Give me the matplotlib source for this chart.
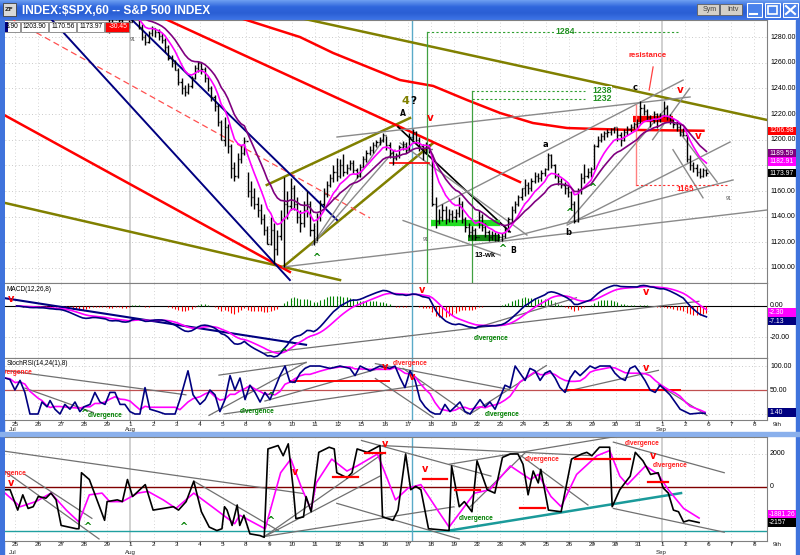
import numpy as np
import pandas as pd
import matplotlib
matplotlib.use("Agg")
import matplotlib.pyplot as plt
import matplotlib.transforms as mtrans
from matplotlib.collections import LineCollection
from matplotlib.patches import Rectangle
from matplotlib.colors import LinearSegmentedColormap

W, H = 800, 555
NARROW = ["Liberation Sans", "DejaVu Sans"]

# ---------------- data ----------------
# trading days, index 0 = Jul 25 2011
day_labels = ["25", "26", "27", "28", "29", "1", "2", "3", "4", "5", "8", "9", "10",
              "11", "12", "15", "16", "17", "18", "19", "22", "23", "24", "25", "26",
              "29", "30", "31", "1", "2", "6", "7", "8", "9th"]
month_labels = {0: "Jul", 5: "Aug", 28: "Sep"}

# hourly bars, 7 per day, Jul 25 .. Sep 2
bar_close = [
    1340, 1338, 1335, 1337, 1334, 1336, 1337,
    1335, 1336, 1333, 1331, 1332, 1330, 1331,
    1327, 1322, 1318, 1314, 1310, 1307, 1305,
    1308, 1312, 1314, 1309, 1305, 1302, 1300,
    1290, 1295, 1298, 1293, 1286, 1288, 1292,
    1303, 1296, 1288, 1280, 1276, 1283, 1287,
    1284, 1281, 1278, 1272, 1264, 1260, 1254,
    1245, 1240, 1237, 1242, 1248, 1256, 1260,
    1255, 1248, 1240, 1233, 1226, 1214, 1200,
    1210, 1195, 1178, 1172, 1185, 1190, 1199,
    1160, 1155, 1150, 1145, 1138, 1130, 1119,
    1130, 1115, 1125, 1138, 1150, 1148, 1162,
    1150, 1140, 1135, 1145, 1150, 1130, 1120,
    1140, 1150, 1158, 1165, 1170, 1175, 1172,
    1180, 1175, 1178, 1182, 1176, 1172, 1179,
    1185, 1190, 1192, 1196, 1198, 1200, 1204,
    1196, 1190, 1186, 1188, 1194, 1197, 1192,
    1202, 1206, 1200, 1195, 1190, 1196, 1193,
    1150, 1137, 1140, 1145, 1138, 1142, 1140,
    1143, 1150, 1138, 1132, 1128, 1130, 1124,
    1140, 1132, 1128, 1124, 1126, 1122, 1124,
    1125, 1130, 1138, 1145, 1150, 1155, 1162,
    1165, 1162, 1168, 1172, 1170, 1174, 1177,
    1188, 1180, 1172, 1168, 1165, 1162, 1159,
    1150, 1137, 1160, 1170, 1172, 1175, 1177,
    1195, 1200, 1203, 1205, 1206, 1208, 1210,
    1204, 1200, 1206, 1208, 1210, 1212, 1213,
    1225, 1222, 1218, 1215, 1220, 1216, 1219,
    1225, 1218, 1215, 1212, 1210, 1206, 1204,
    1185, 1180, 1178, 1175, 1172, 1176, 1174,
]
bar_high = [
    1344, 1341, 1339, 1338, 1337, 1337, 1338,
    1338, 1338, 1337, 1334, 1334, 1333, 1333,
    1331, 1328, 1323, 1319, 1315, 1311, 1308,
    1310, 1314, 1316, 1315, 1310, 1306, 1304,
    1300, 1297, 1300, 1299, 1294, 1290, 1293,
    1307, 1304, 1297, 1290, 1282, 1285, 1289,
    1287, 1286, 1283, 1279, 1274, 1266, 1262,
    1256, 1248, 1243, 1244, 1250, 1258, 1261,
    1260, 1257, 1250, 1242, 1235, 1228, 1215,
    1218, 1212, 1197, 1183, 1190, 1196, 1202,
    1175, 1168, 1162, 1155, 1150, 1142, 1133,
    1140, 1135, 1130, 1145, 1171, 1160, 1170,
    1165, 1155, 1145, 1152, 1160, 1152, 1135,
    1143, 1153, 1162, 1168, 1173, 1180, 1186,
    1185, 1189, 1181, 1184, 1184, 1178, 1181,
    1187, 1192, 1195, 1198, 1200, 1202, 1205,
    1203, 1198, 1192, 1190, 1196, 1199, 1198,
    1205, 1208, 1207, 1202, 1197, 1198, 1197,
    1189, 1155, 1146, 1150, 1148, 1146, 1145,
    1146, 1155, 1152, 1140, 1135, 1133, 1131,
    1145, 1142, 1135, 1130, 1129, 1128, 1127,
    1127, 1133, 1140, 1148, 1152, 1157, 1162,
    1169, 1167, 1170, 1175, 1174, 1176, 1178,
    1190, 1189, 1181, 1174, 1170, 1167, 1164,
    1160, 1152, 1162, 1174, 1181, 1178, 1179,
    1197, 1203, 1205, 1207, 1208, 1209, 1210,
    1209, 1206, 1208, 1211, 1212, 1214, 1216,
    1230, 1228, 1224, 1219, 1222, 1221, 1221,
    1230, 1227, 1220, 1217, 1215, 1212, 1209,
    1204, 1188, 1183, 1181, 1178, 1178, 1177,
]
bar_low = [
    1338, 1336, 1333, 1334, 1331, 1333, 1335,
    1334, 1333, 1331, 1329, 1330, 1329, 1329,
    1326, 1320, 1316, 1312, 1308, 1304, 1303,
    1302, 1306, 1310, 1307, 1303, 1300, 1299,
    1283, 1288, 1293, 1290, 1284, 1284, 1287,
    1292, 1294, 1286, 1278, 1274, 1275, 1281,
    1280, 1278, 1275, 1268, 1262, 1257, 1254,
    1243, 1236, 1234, 1236, 1240, 1247, 1253,
    1251, 1245, 1238, 1230, 1222, 1211, 1200,
    1195, 1190, 1170, 1168, 1170, 1182, 1188,
    1155, 1148, 1146, 1140, 1134, 1126, 1119,
    1118, 1103, 1110, 1122, 1101, 1138, 1145,
    1145, 1135, 1128, 1132, 1140, 1125, 1118,
    1121, 1137, 1148, 1155, 1163, 1167, 1168,
    1170, 1172, 1173, 1176, 1174, 1170, 1171,
    1179, 1183, 1188, 1190, 1194, 1196, 1198,
    1192, 1186, 1180, 1184, 1186, 1192, 1190,
    1192, 1200, 1197, 1191, 1184, 1189, 1190,
    1148, 1131, 1134, 1137, 1134, 1136, 1136,
    1136, 1140, 1135, 1128, 1124, 1122, 1122,
    1131, 1129, 1124, 1121, 1122, 1121, 1121,
    1121, 1123, 1128, 1136, 1143, 1148, 1153,
    1156, 1158, 1160, 1166, 1167, 1168, 1172,
    1176, 1178, 1170, 1165, 1162, 1158, 1155,
    1145, 1135, 1136, 1158, 1166, 1170, 1171,
    1177, 1194, 1198, 1200, 1202, 1204, 1205,
    1199, 1195, 1199, 1204, 1206, 1208, 1209,
    1213, 1219, 1215, 1210, 1213, 1209, 1214,
    1218, 1215, 1212, 1209, 1207, 1203, 1203,
    1183, 1176, 1175, 1172, 1170, 1171, 1172,
]

# long red moving average
red_ma_day = [9.74, 12.34, 13.77, 16.67, 18.1, 19.57, 21.0, 22.42, 23.9, 25.32, 26.75, 29.8]
red_ma_val = [1294.9, 1280.0, 1267.6, 1246.5, 1241.9, 1230.9, 1220.8, 1213.0, 1209.1, 1208.3, 1207.6, 1206.98]

# StochRSI %K
stoch_day = [-0.43, -0.22, 0, 0.22, 0.43, 0.65, 1.0, 1.17, 1.39, 1.52, 1.73, 1.95, 2.16, 2.38,
             2.6, 2.81, 2.99, 3.25, 3.46, 3.68, 3.9, 4.11, 4.33, 4.55, 4.76, 4.98, 5.19, 5.41,
             5.63, 5.84, 6.19, 6.49, 6.93, 7.14, 7.49, 7.71, 8.01, 8.23, 8.44, 8.66, 8.87, 9.09,
             9.31, 9.52, 9.74, 9.96, 10.17, 10.39, 10.61, 10.82, 11.04, 11.26, 11.47, 11.69,
             11.9, 12.12, 12.34, 12.55, 12.77, 13.2, 13.64, 14.07, 14.5, 14.72, 14.94, 15.37,
             15.8, 16.23, 16.45, 16.67, 16.88, 17.1, 17.32, 17.53, 17.75, 17.97, 18.18, 18.4,
             18.61, 18.83, 19.05, 19.26, 19.48, 19.7, 19.91, 20.13, 20.35, 20.56, 20.78, 21.0,
             21.21, 21.43, 21.65, 21.86, 22.08, 22.29, 22.51, 22.73, 22.94, 23.16, 23.38, 23.59,
             23.81, 24.03, 24.24, 24.46, 24.68, 24.89, 25.11, 25.32, 25.76, 25.97, 26.19, 26.41,
             26.62, 26.84, 27.06, 27.27, 27.49, 27.71, 27.92, 28.14, 28.35, 28.57, 28.79, 29.0,
             29.22, 29.65, 29.87]
stoch_k = [75, 72, 50, 70, 45, 0, 0, 25, 15, 28, 10, 0, 20, 10,
           25, 5, 15, 20, 45, 25, 20, 45, 45, 20, 20, 5, 0, 0,
           55, 10, 5, 0, 0, 30, 90, 40, 20, 30, 50, 40, 5, 30,
           80, 50, 75, 30, 60, 45, 25, 45, 30, 55, 80, 100,
           67, 66, 85, 95, 100, 100, 95, 100, 95, 80, 100, 90,
           100, 95, 100, 75, 55, 90, 70, 30, 15, 5, 0, 0,
           20, 5, 15, 25, 5, 0, 15, 30, 15, 25, 10, 35,
           60, 55, 100, 85, 70, 95, 90, 70, 85, 90, 75, 55,
           45, 75, 90, 80, 90, 100, 95, 100, 100, 85, 75, 70,
           95, 100, 85, 70, 50, 45, 60, 50, 40, 25, 10, 5,
           0, 2, 1.4]

# bottom oscillator (black) and its signal (magenta)
osc_day = [-0.54, -0.21, 0.12, 0.34, 0.57, 0.79, 1.01, 1.34, 1.56, 1.78, 2.0, 2.66, 2.77, 2.88,
           3.22, 3.55, 3.88, 3.99, 4.43, 4.65, 4.87, 5.09, 5.64, 5.98, 6.42, 6.86, 7.08, 7.41,
           7.74, 8.07, 8.41, 8.74, 8.96, 9.07, 9.18, 9.40, 9.62, 9.73, 9.91, 10.17, 10.61, 10.79,
           10.95, 11.39, 11.61, 11.83, 12.05, 12.16, 12.49, 12.6, 12.82, 13.15, 13.6, 13.82,
           13.93, 14.37, 14.59, 14.81, 15.25, 15.8, 15.91, 16.36, 16.58, 16.91, 17.13, 17.35,
           17.57, 17.9, 18.79, 18.9, 19.23, 19.45, 19.78, 20.0, 20.44, 20.77, 21.1, 21.44,
           21.77, 21.99, 22.21, 22.43, 22.65, 22.76, 23.09, 23.64, 24.09, 24.53, 24.75, 24.97,
           25.3, 25.74, 25.85, 26.18, 26.4, 26.63, 26.85, 27.18, 27.51, 27.84, 28.06, 28.28,
           28.5, 28.72, 28.94, 29.17, 29.61]
osc_val = [-165, -165, -1400, -475, -1300, -1195, -577, -680, -370, -780, -2330, -2530, -2530, 865,
           453, -780, -2020, -885, -780, -885, 453, -577, 144, -1400, -1300, -1195, -1400, -885,
           350, -1500, -2430, -2640, -2530, -1195, -1400, -2330, -1090, -2330, -1710, -2840, -2945, -3050,
           2307, 2513, 1895, 2616, -165, -1916, -1813, -577, -1500, 2100, 2410, 2307,
           865, 556, 865, 2307, 2100, 2513, -1813, -2020, -1400, 2000, -165, 40,
           -165, -2530, -2640, 1277, -1195, -885, -1500, 1586, -165, -370, 1792, 2000,
           2000, 1380, -475, 968, 247, 1071, -1400, -1500, 1690, 2000, 2100, 1895,
           2410, 2410, -1195, -165, 247, 660, 2100, 1586, 762, 865, -62, -370,
           -1400, -1500, -2120, -2020, -2157]
sig_day = [-0.43, 0.23, 0.9, 1.56, 2.22, 2.77, 3.22, 3.77, 4.1, 4.65, 5.31, 5.76, 6.42, 6.97,
           7.74, 8.63, 9.51, 9.73, 10.83, 11.5, 11.94, 12.38, 12.82, 13.04, 13.71, 14.37, 14.81,
           15.69, 16.13, 16.47, 17.02, 17.57, 18.34, 18.79, 19.45, 19.89, 20.55, 21.44, 22.32,
           22.65, 23.2, 23.64, 24.31, 25.19, 25.74, 26.18, 26.51, 27.29, 27.84, 28.28, 28.94, 29.61]
sig_val = [-371, -1195, -886, -371, -1400, -2120, -474, -371, -886, -886, -371, -268, -783, -1298,
           -371, -1298, -2225, -1710, -2534, 865, 1690, 40, -1400, 247, 1690, 968, 1277,
           2000, 453, -783, -62, 144, -1500, -2430, -1195, -371, -165, 1277, 453,
           762, -577, -1195, 762, 1895, 2204, 660, 144, 1277, 762, -165, -1298, -1881.26]

# right-hand value tags: text, value, box colour
price_tags = [("1206.98", 1206.98, "#ff0000"), ("1189.59", 1189.59, "#800080"),
              ("1182.91", 1182.91, "#ff00ff"), ("1173.97", 1173.97, "black")]
macd_tags = [("-2.30", -2.30, "#ff00ff"), ("-7.13", -7.13, "#000080")]
stoch_tags = [("1.40", 1.40, "#000080")]
osc_tags = [("-1881.26", -1881.26, "#ff00ff"), ("-2157", -2157, "black")]
header_vals = ["3.90", "1203.90", "1170.56", "1173.97", "-30.45"]

# hand-drawn trend lines, (day, value) pairs
price_olive = [((-0.43, 1150.7), (14.07, 1090.6)), ((12.34, 1294.9), (32.55, 1215.4)),
               ((11.6, 1100.8), (18.1, 1197.4)), ((10.9, 1164.7), (17.1, 1216.9))]
price_red = [((-0.43, 1218.9), (11.9, 1096.9)), ((6.41, 1294.9), (21.86, 1167.0))]
price_red_dash = [((-0.22, 1294.9), (15.37, 1139.0))]
price_navy = [((1.52, 1294.9), (11.9, 1090.6)), ((4.98, 1294.9), (13.94, 1137.4))]
price_black = [((16.58, 1209.9), (21.43, 1128.1))]
price_gray = [((11.6, 1100.8), (32.55, 1145.2)), ((21.0, 1121.8), (31.08, 1168.6)),
              ((23.9, 1133.5), (30.95, 1198.2)), ((23.9, 1135.0), (28.2, 1225.0)),
              ((18.27, 1147.5), (28.92, 1246.5)), ((13.94, 1202.1), (29.22, 1233.3)),
              ((28.79, 1205.2), (30.39, 1167.0)), ((28.48, 1192.2), (29.78, 1154.7)),
              ((16.67, 1197.4), (22.16, 1125.7)), ((12.86, 1117.9), (15.93, 1199.8)),
              ((12.86, 1117.9), (16.45, 1192.0)), ((16.8, 1137.0), (21.0, 1110.0)),
              ((27.6, 1200.0), (29.2, 1240.0))]
green_levels = [(1284, 17.84, 28.7, 23.8), (1238, 19.78, 24.68, 25.4), (1232, 19.78, 24.68, 25.4)]
green_bands = [(1135.0, 18.0, 21.0, "#22dd22"), (1123.4, 19.6, 21.0, "#118811")]
red_band = (1216.0, 26.75, 28.5)
cyan_day = 17.19

macd_navy_tl = [((-0.43, 5.0), (12.6, -25.0))]
macd_gray = [((10.82, -30.3), (29.6, 3.0)), ((19.9, -14.3), (24.3, 5.3))]

stoch_gray = [((-0.43, 91), (7.4, 40)), ((0.43, 54), (3.4, 3)), ((8.4, -3), (12.6, 108)),
              ((8.83, 81), (12.6, 107)), ((9.05, 0), (17.7, 61)), ((10.82, 27), (16.0, 98)),
              ((15.6, 105), (21.4, 51)), ((15.6, 74), (18.1, -7)), ((16.8, 95), (19.6, 0)),
              ((19.7, 0), (23.0, 101)), ((23.85, 47), (27.85, 91)), ((27.85, 61), (29.95, -3))]
stoch_red = [((11.9, 69), (16.2, 69)), ((23.8, 50), (28.8, 50))]

osc_gray = [((-0.6, 2200), (12.5, -400)), ((-0.65, 1170), (3.64, -3150)), ((0.43, 760), (3.33, -1900)),
            ((7.75, 350), (11.4, -2640)), ((10.8, -3000), (15.9, 2000)), ((10.8, -3000), (15.8, 660)),
            ((10.8, -3000), (19.0, -1200)), ((13.93, -990), (19.23, -3150)), ((15.0, 2820), (20.6, 660)),
            ((18.8, 1380), (26.3, 3130)), ((15.9, 2510), (24.98, 1900)), ((21.9, 1900), (24.8, -1090)),
            ((19.7, -1200), (22.1, 2100)), ((25.9, 2720), (30.7, 865)), ((25.9, -1300), (30.7, -2740))]
osc_cyan = [((18.8, -2640), (28.83, -370))]
osc_cyan_level = -2640
osc_red = [((13.77, 600), (14.85, 600)), ((15.15, 2050), (16.02, 2050)), ((17.66, 500), (18.7, 500)),
           ((19.05, -200), (20.13, -200)), ((21.86, -1300), (22.94, -1300)), ((24.24, 1700), (26.62, 1700)),
           ((27.4, 300), (28.27, 300))]

# ---------------- figure ----------------
fig = plt.figure(figsize=(8, 5.55), dpi=100)
fig.patch.set_facecolor("white")


def px_axes(x0, y0, x1, y1, z=1):
    ax = fig.add_axes([x0 / W, 1 - y1 / H, (x1 - x0) / W, (y1 - y0) / H])
    ax.set_zorder(z)
    return ax


bg = px_axes(0, 0, W, H, z=0)
grad = np.linspace(0, 1, 20)[:, None]
tb = LinearSegmentedColormap.from_list("tb", ["#6a9cf0", "#2f66dc", "#2a5fd4", "#3d74e6"])
bg.imshow(grad, extent=(0, W, 20, 0), cmap=tb, aspect="auto")
bg.add_patch(Rectangle((0, 20), 4, 535, color="#3f73dc"))
bg.add_patch(Rectangle((796, 20), 4, 535, color="#3f73dc"))
bg.add_patch(Rectangle((0, 432), W, 3.5, color="#8ab0ec"))
bg.set_xlim(0, W)
bg.set_ylim(H, 0)
bg.axis("off")

ax_p = px_axes(5, 20, 767, 283, z=2)
ax_m = px_axes(5, 283, 767, 358, z=2)
ax_s = px_axes(5, 358, 767, 420, z=2)
ax_c = px_axes(5, 437, 767, 541, z=2)

XL = (-0.43, 32.55)
ax_p.set_ylim(1088.3, 1293.3)
ax_m.set_ylim(-33.5, 14.8)
ax_s.set_ylim(-12.5, 116.7)
ax_c.set_ylim(-3273, 3030)

for ax in (ax_p, ax_m, ax_s, ax_c):
    ax.set_xlim(*XL)
    ax.set_yticks([])
    ax.set_xticks([])
    for sp in ax.spines.values():
        sp.set_color("#808080")
        sp.set_linewidth(0.8)
    ax.spines["left"].set_visible(False)
    for d in range(0, 33):
        if d in (5, 28):
            ax.axvline(d, color="#d0d0d0", lw=1.4, zorder=0)
        else:
            ax.axvline(d, color="#c8c8c8", lw=0.6, ls=(0, (1, 3)), zorder=0)

dotted = dict(color="#b8b8b8", lw=0.6, ls=(0, (1, 3)), zorder=0)
for v in range(1100, 1281, 20):
    ax_p.axhline(v, **dotted)
ax_m.axhline(-20, **dotted)
ax_s.axhline(100, **dotted)
ax_s.axhline(0, **dotted)
ax_c.axhline(2000, **dotted)

fg = px_axes(0, 0, W, H, z=10)
fg.set_xlim(0, W)
fg.set_ylim(H, 0)
fg.axis("off")
fg.patch.set_alpha(0)


def ypix(ax, v):
    return H - ax.transData.transform((0, v))[1]


def right_label(ax, y, s, covered=()):
    # plain axis value; skipped where a coloured tag sits on top of it
    if any(abs(ypix(ax, y) - c) < 6 for c in covered):
        return
    ax.text(1.004, y, s, transform=mtrans.blended_transform_factory(ax.transAxes, ax.transData),
            fontsize=5, family=NARROW, va="center", ha="left", clip_on=False, color="black")


def tags(ax, items, shift=0.0):
    # coloured value boxes in the label column, stacked so they do not overlap
    last = -99
    placed = []
    for s, v, fc in items:
        ypx = max(ypix(ax, v) + shift, last + 8.5)
        last = ypx
        placed.append(ypx)
        fg.add_patch(Rectangle((768, ypx - 4.2), 28, 8.4, fc=fc, ec="none", zorder=3))
        fg.text(769, ypx, s, fontsize=4.9, family=NARROW, color="white", va="center", ha="left", zorder=4)
    return placed


def draw_segs(ax, segs, **kw):
    for (d0, v0), (d1, v1) in segs:
        ax.plot([d0, d1], [v0, v1], **kw)


def mark(ax, d, v, s, color, size=7, weight="bold", ha="center", fam=None, **kw):
    ax.text(d, v, s, color=color, fontsize=size, fontweight=weight, ha=ha, va="center",
            family=fam or ["DejaVu Sans"], zorder=15, **kw)


# ---------------- price panel ----------------
close = np.array(bar_close, float)
high = np.array(bar_high, float)
low = np.array(bar_low, float)
t = (np.arange(len(close)) + 0.5) / 7.0
opn = np.r_[close[0], close[:-1]]
tk = 0.05
segs = [[(x, l), (x, h)] for x, l, h in zip(t, low, high)]
segs += [[(x - tk, o), (x, o)] for x, o in zip(t, opn)]
segs += [[(x, c), (x + tk, c)] for x, c in zip(t, close)]
ax_p.add_collection(LineCollection(segs, colors="black", linewidths=1.0, zorder=4))

cs = pd.Series(close)
ax_p.plot(t, cs.ewm(span=8, adjust=False).mean(), color="#ff00ff", lw=1.2, zorder=5)
ax_p.plot(t, cs.ewm(span=16, adjust=False).mean(), color="#800080", lw=1.2, zorder=5)
ax_p.plot(red_ma_day, red_ma_val, color="#ff0000", lw=1.8, zorder=3)

draw_segs(ax_p, price_olive, color="#808000", lw=1.8, zorder=3)
draw_segs(ax_p, price_red, color="#ff0000", lw=1.8, zorder=3)
draw_segs(ax_p, price_red_dash, color="#ff5050", lw=0.9, ls=(0, (5, 3)), zorder=3)
draw_segs(ax_p, price_navy, color="#000080", lw=1.4, zorder=3)
draw_segs(ax_p, price_black, color="black", lw=1.2, zorder=3)
draw_segs(ax_p, price_gray, color="#8a8a8a", lw=1.0, zorder=3)

for lvl, d0, d1, dl in green_levels:
    ax_p.plot([d0, d1], [lvl, lvl], color="#30a030", lw=0.8, ls=(0, (2, 2)), zorder=3)
    ax_p.text(dl, lvl, str(lvl), color="#209020", fontsize=6.3, fontweight="bold", family=NARROW,
              ha="center", va="center", zorder=6, bbox=dict(fc="white", ec="none", pad=0.5))
ax_p.plot([17.84, 17.84], [1080, 1284], color="#40a040", lw=0.9, zorder=3)
ax_p.plot([19.78, 19.78], [1080, 1238], color="#40a040", lw=0.9, zorder=3)
for v, d0, d1, col in green_bands:
    ax_p.plot([d0, d1], [v, v], color=col, lw=4.5, solid_capstyle="butt", zorder=3)
ax_p.plot([red_band[1], red_band[2]], [red_band[0], red_band[0]], color="#ff0000", lw=4.5,
          solid_capstyle="butt", zorder=3)
ax_p.plot([16.23, 17.9], [1182, 1182], color="#ff0000", lw=1.2, zorder=3)
ax_p.plot([26.9, 26.9], [1164.7, 1227], color="#ff8080", lw=1.0, zorder=3)
ax_p.plot([26.9, 30.8], [1165, 1165], color="#ff3030", lw=0.8, ls=(0, (2, 2)), zorder=3)
ax_p.plot([27.62, 27.45], [1256.7, 1238.7], color="#ff4040", lw=0.9, zorder=3)

mark(ax_p, 16.88, 1230, "4", "#808000", size=8)
mark(ax_p, 17.25, 1230, "?", "black", size=7.5)
mark(ax_p, 16.8, 1220.5, "A", "black", size=5.5)
mark(ax_p, 17.97, 1216.9, "v", "red", size=7.5)
mark(ax_p, 20.35, 1110, "13-wk", "black", size=5.5, fam=NARROW)
mark(ax_p, 21.55, 1114, "B", "black", size=5.5)
mark(ax_p, 21.1, 1115, "^", "#008000", size=7)
mark(ax_p, 22.94, 1196, "a", "black", size=6)
mark(ax_p, 23.94, 1128, "b", "black", size=6)
mark(ax_p, 24.0, 1143, "^", "#008000", size=7)
mark(ax_p, 24.98, 1162, "^", "#008000", size=7)
mark(ax_p, 13.03, 1108, "^", "#008000", size=7)
mark(ax_p, 26.84, 1240.3, "c", "black", size=6)
mark(ax_p, 27.4, 1266, "resistance", "#ff2020", size=5.6, fam=NARROW)
mark(ax_p, 28.79, 1238.7, "v", "red", size=7.5)
mark(ax_p, 29.57, 1203, "v", "red", size=7.5)
mark(ax_p, 29.0, 1161.5, "1165", "#ff2020", size=5.8, fam=NARROW)
for d, v in [(5.1, 1278), (17.8, 1122), (30.9, 1154)]:
    mark(ax_p, d, v, "91", "#505050", size=3.5, weight="normal")

covered = tags(ax_p, price_tags)
for v in range(1100, 1281, 20):
    right_label(ax_p, v, f"{v}.00", covered)

# ---------------- MACD ----------------
ema12 = cs.ewm(span=12, adjust=False).mean()
ema26 = cs.ewm(span=26, adjust=False).mean()
macd = ema12 - ema26
signal = macd.ewm(span=8, adjust=False).mean()
hist = macd - signal
hcol = np.where(hist >= 0, "#008000", "#ff0000")
ax_m.vlines(t, 0, hist, colors=hcol, lw=0.8, zorder=2)
ax_m.axhline(0, color="black", lw=0.8, zorder=1)
ax_m.plot(t, signal, color="#ff00ff", lw=1.2, zorder=4)
ax_m.plot(t, macd, color="#000080", lw=1.2, zorder=5)
draw_segs(ax_m, macd_navy_tl, color="#000080", lw=1.5, zorder=3)
draw_segs(ax_m, macd_gray, color="#707070", lw=0.9, zorder=3)
mark(ax_m, -0.15, 4.5, "v", "red", size=7)
mark(ax_m, 17.6, 10.0, "v", "red", size=7)
mark(ax_m, 27.3, 9.0, "v", "red", size=7)
mark(ax_m, 11.6, -30.5, "^", "#008000", size=7)
mark(ax_m, 20.6, -21.0, "divergence", "#008000", size=4.8, fam=NARROW)
ax_m.text(0.002, 0.91, "MACD(12,26,8)", transform=ax_m.transAxes, fontsize=4.7, family=NARROW, va="center")
right_label(ax_m, 0, "0.00")
right_label(ax_m, -20, "-20.00")
tags(ax_m, macd_tags, shift=3)

# ---------------- StochRSI ----------------
k = pd.Series(stoch_k, dtype=float)
ax_s.axhline(50, color="#c05050", lw=0.9, zorder=1)
ax_s.plot(stoch_day, k.rolling(5, min_periods=1).mean(), color="#ff00ff", lw=1.2, zorder=4)
ax_s.plot(stoch_day, k, color="#000080", lw=1.2, zorder=5)
draw_segs(ax_s, stoch_gray, color="#707070", lw=0.9, zorder=3)
draw_segs(ax_s, stoch_red, color="#ff0000", lw=1.4, zorder=3)
ax_s.text(0.75, 86, "divergence", color="#ff2020", fontsize=4.8, fontweight="bold", family=NARROW,
          ha="right", va="center", clip_on=True, zorder=15)
mark(ax_s, 2.99, 0, "^", "#008000", size=7)
mark(ax_s, 3.15, -4, "divergence", "#008000", size=4.8, ha="left", fam=NARROW)
mark(ax_s, 9.74, 6, "divergence", "#008000", size=4.8, ha="left", fam=NARROW)
mark(ax_s, 11.04, 36, "^", "#008000", size=7)
mark(ax_s, 16.35, 106, "divergence", "#ff2020", size=4.8, ha="left", fam=NARROW)
mark(ax_s, 16.0, 97, "v", "red", size=7)
mark(ax_s, 17.2, 78, "v", "red", size=7)
mark(ax_s, 27.3, 95, "v", "red", size=7)
mark(ax_s, 20.35, 0, "divergence", "#008000", size=4.8, ha="left", fam=NARROW)
ax_s.text(0.002, 0.91, "StochRSI(14,24(1),8)", transform=ax_s.transAxes, fontsize=4.7, family=NARROW,
          va="center")
right_label(ax_s, 100, "100.00")
right_label(ax_s, 50, "50.00")
tags(ax_s, stoch_tags, shift=-1)

# ---------------- bottom oscillator ----------------
ax_c.axhline(0, color="#800000", lw=1.0, zorder=1)
ax_c.axhline(osc_cyan_level, color="#20a0a0", lw=1.0, zorder=1)
draw_segs(ax_c, osc_cyan, color="#1a9a9a", lw=1.8, zorder=3)
draw_segs(ax_c, osc_gray, color="#707070", lw=0.9, zorder=3)
draw_segs(ax_c, osc_red, color="#ff0000", lw=1.6, zorder=6)
ax_c.plot(sig_day, sig_val, color="#ff00ff", lw=1.2, zorder=4)
ax_c.plot(osc_day, osc_val, color="black", lw=1.2, zorder=5)
ax_c.text(0.5, 800, "divergence", color="#ff2020", fontsize=4.8, fontweight="bold", family=NARROW,
          ha="right", va="center", clip_on=True, zorder=15)
mark(ax_c, -0.17, 250, "v", "red", size=7)
for d, v in [(3.12, -2430), (7.27, -2430), (11.04, -2060)]:
    mark(ax_c, d, v, "^", "#008000", size=7)
for d, v in [(12.12, 900), (16.02, 2600), (17.75, 1070), (27.62, 1900)]:
    mark(ax_c, d, v, "v", "red", size=7)
mark(ax_c, 19.22, -1900, "divergence", "#008000", size=4.8, ha="left", fam=NARROW)
mark(ax_c, 22.08, 1650, "divergence", "#ff2020", size=4.8, ha="left", fam=NARROW)
mark(ax_c, 26.4, 2620, "divergence", "#ff2020", size=4.8, ha="left", fam=NARROW)
mark(ax_c, 27.62, 1300, "divergence", "#ff2020", size=4.8, ha="left", fam=NARROW)
right_label(ax_c, 2000, "2000")
right_label(ax_c, 0, "0")
tags(ax_c, osc_tags, shift=-4)

for ax in (ax_p, ax_m, ax_s, ax_c):
    ax.axvline(cyan_day, color="#5aaac8", lw=1.0, zorder=2)

# ---------------- date axes ----------------
for ax, yl, ym in ((ax_s, -0.065, -0.155), (ax_c, -0.038, -0.108)):
    ax.set_xticks(range(0, 33))
    ax.set_xticklabels([])
    ax.tick_params(axis="x", length=2, width=0.5, color="#404040")
    tr = mtrans.blended_transform_factory(ax.transData, ax.transAxes)
    for i, lab in enumerate(day_labels):
        ax.text(i, yl, lab, transform=tr, fontsize=4.6, family=NARROW, ha="center", va="center",
                clip_on=False, color="#202020")
    for i, lab in month_labels.items():
        ax.text(i - 0.25, ym, lab, transform=tr, fontsize=4.4, family=NARROW, ha="left", va="center",
                clip_on=False, color="#202020")

# ---------------- chrome overlay ----------------
fg.text(22, 10.5, "INDEX:\\$SPX,60 -- S&P 500 INDEX", color="white", fontsize=8.6, fontweight="bold",
        family=NARROW, va="center", ha="left")
fg.add_patch(Rectangle((3, 3), 13, 13, fc="#d8d8d8", ec="#404040", lw=0.6))
fg.text(9.5, 9.5, "ZF", fontsize=4.5, ha="center", va="center", color="#303030", fontweight="bold")
for x0, x1, s in ((697, 719, "Sym"), (720, 742, "Intv")):
    fg.add_patch(Rectangle((x0, 4), x1 - x0, 11, fc="#d4d0c8", ec="#606060", lw=0.6))
    fg.text((x0 + x1) / 2 + 2, 9.5, s, fontsize=5, family=NARROW, ha="center", va="center", color="#404040")
for x0 in (747, 765, 783):
    fg.add_patch(Rectangle((x0, 3), 15, 14, fc="#4a82ec", ec="white", lw=0.8))
fg.plot([750, 757], [14, 14], color="white", lw=1.5)
fg.add_patch(Rectangle((768, 6), 9, 8, fc="none", ec="white", lw=1.2))
fg.plot([786, 795], [6, 14], color="white", lw=1.5)
fg.plot([786, 795], [14, 6], color="white", lw=1.5)

xs = [5, 21, 49, 77, 105, 130]
for i, s in enumerate(header_vals):
    red = s.startswith("-")
    fg.add_patch(Rectangle((xs[i], 22), xs[i + 1] - xs[i] - 1, 10, fc="#ff0000" if red else "white",
                           ec="#808080", lw=0.6))
    fg.text(xs[i + 1] - 2.5, 27, s, fontsize=4.8, family=NARROW, ha="right", va="center",
            color="white" if red else "black")
fg.add_patch(Rectangle((5, 22), 2.5, 10, fc="#000080", ec="none"))

fig.savefig("out.png", dpi=100)
